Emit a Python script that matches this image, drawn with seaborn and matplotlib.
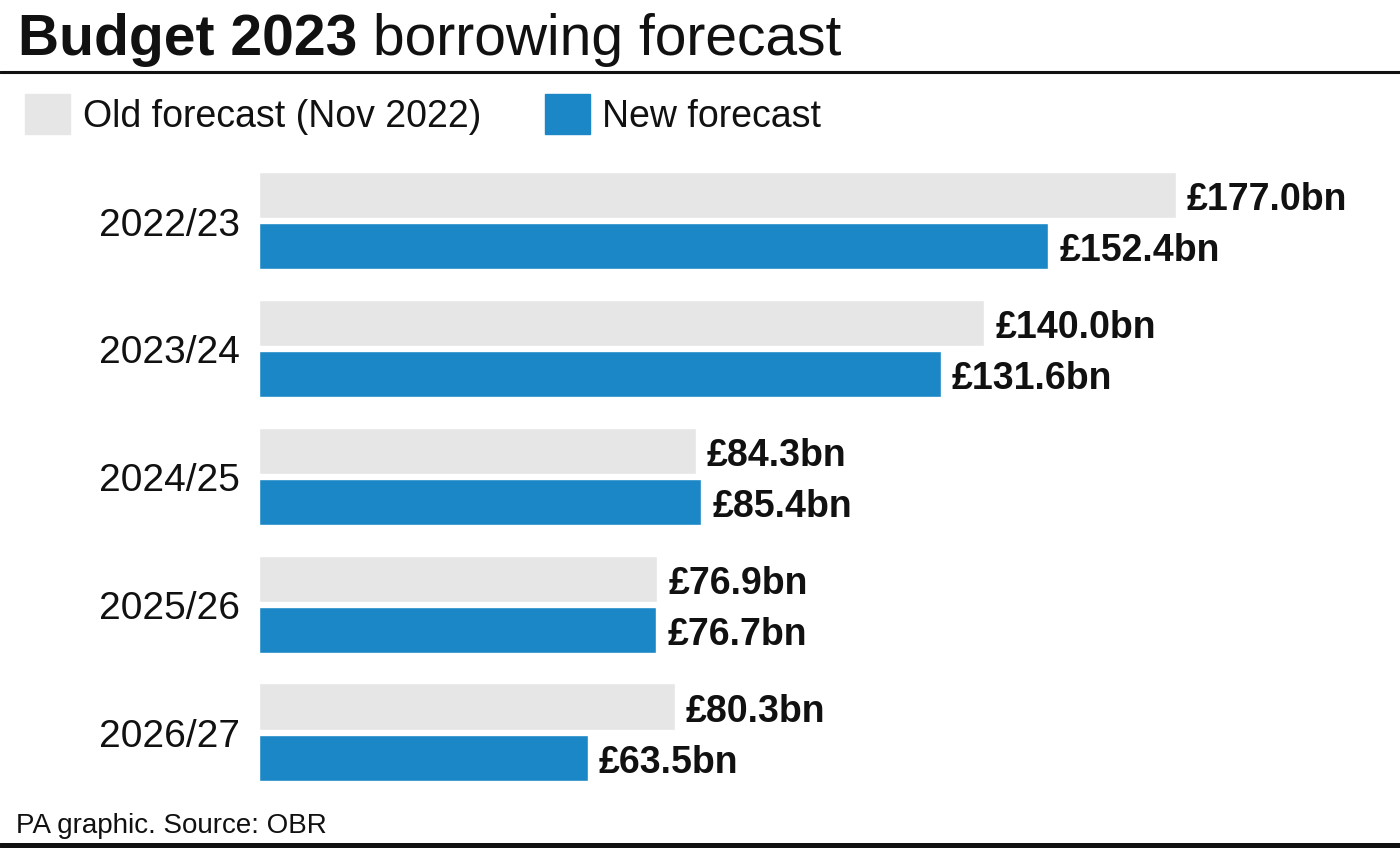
import matplotlib
matplotlib.use("Agg")
import matplotlib.pyplot as plt
from matplotlib.patches import Rectangle
from matplotlib.lines import Line2D
import seaborn as sns
import pandas as pd

years = ["2022/23", "2023/24", "2024/25", "2025/26", "2026/27"]
old_forecast = [177.0, 140.0, 84.3, 76.9, 80.3]
new_forecast = [152.4, 131.6, 85.4, 76.7, 63.5]
series_names = ["Old forecast (Nov 2022)", "New forecast"]
colors = ["#e6e6e6", "#1b87c6"]

df = pd.DataFrame({
    "year": years * 2,
    "series": [series_names[0]] * len(years) + [series_names[1]] * len(years),
    "value": old_forecast + new_forecast,
})

sns.set_theme(style="white")
plt.rcParams["font.family"] = ["Liberation Sans", "DejaVu Sans"]
narrow = ["Liberation Sans Narrow", "Liberation Sans", "DejaVu Sans"]

W, H = 1400, 854
fig = plt.figure(figsize=(W / 100, H / 100), dpi=100)
fig.patch.set_facecolor("white")

def fx(px):
    return px / W

def fy(py):
    return 1 - py / H

ax = fig.add_axes([fx(259), fy(800), fx(1400 - 259), (800 - 150) / H])
sns.barplot(data=df, y="year", x="value", hue="series", order=years,
            hue_order=series_names, palette=colors, width=0.8, gap=0.1,
            saturation=1, orient="h", ax=ax, legend=False)

scale = 5.18  # px per unit
ax.set_xlim(0, (1400 - 259) / scale)
ax.set_ylim((800 - 221.5) / 127.9, (150 - 221.5) / 127.9)

for cont in ax.containers:
    vals = [b.get_width() for b in cont]
    anns = ax.bar_label(cont, labels=[f"£{v:.1f}bn" for v in vals], padding=8,
                        fontsize=27, fontweight="bold", color="#111111")
    for a in anns:
        a.set_va("center_baseline")

for s in ax.spines.values():
    s.set_visible(False)
ax.set_xticks([])
ax.set_xlabel("")
ax.set_ylabel("")
ax.tick_params(axis="y", length=0, pad=14, labelsize=28, labelcolor="#111111")

# Title
t1 = fig.text(fx(18), fy(55), "Budget 2023", fontsize=41, fontweight="bold",
              family=narrow, va="baseline", ha="left", color="#111111")
ax.annotate(" borrowing forecast", xy=(1, 0), xycoords=t1, fontsize=41,
            family=narrow, va="bottom", ha="left", color="#111111",
            annotation_clip=False)

# rules
fig.add_artist(Line2D([0, 1], [fy(73), fy(73)], color="#111111", lw=2.2))
fig.add_artist(Line2D([0, 1], [fy(846), fy(846)], color="#111111", lw=3.6))

# Legend
fig.add_artist(Rectangle((fx(25), fy(135)), fx(45), 40 / H, color=colors[0]))
fig.text(fx(83), fy(127), series_names[0], fontsize=27, family=narrow,
         va="baseline", ha="left", color="#111111")
fig.add_artist(Rectangle((fx(545), fy(135)), fx(45), 40 / H, color=colors[1]))
fig.text(fx(602), fy(127), series_names[1], fontsize=27, family=narrow,
         va="baseline", ha="left", color="#111111")

# Source
fig.text(fx(16), fy(833), "PA graphic. Source: OBR", fontsize=20,
         va="baseline", ha="left", color="#111111")

fig.savefig("out.png", dpi=100, facecolor="white")
